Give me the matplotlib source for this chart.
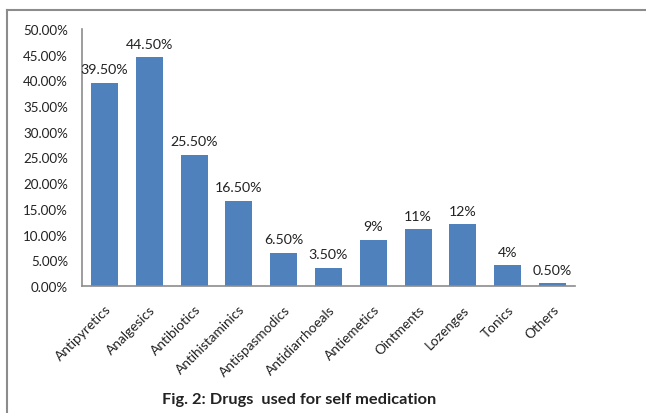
import matplotlib
matplotlib.use("Agg")
import matplotlib.pyplot as plt
from matplotlib.lines import Line2D
from matplotlib.ticker import FuncFormatter

plt.rcParams["font.family"] = ["Lato", "DejaVu Sans"]

drugs = ["Antipyretics", "Analgesics", "Antibiotics", "Antihistaminics", "Antispasmodics",
         "Antidiarrhoeals", "Antiemetics", "Ointments", "Lozenges", "Tonics", "Others"]
percent = [39.5, 44.5, 25.5, 16.5, 6.5, 3.5, 9, 11, 12, 4, 0.5]
bar_labels = ["39.50%", "44.50%", "25.50%", "16.50%", "6.50%", "3.50%",
              "9%", "11%", "12%", "4%", "0.50%"]

fig = plt.figure(figsize=(6.46, 4.14), dpi=100)
ax = fig.add_axes([0.127, 0.3068, 0.763, 0.6207])

x = range(len(drugs))
bars = ax.bar(x, percent, width=0.6, color="#4F81BD")
for b, lab in zip(bars, bar_labels):
    ax.text(b.get_x() + b.get_width() / 2, b.get_height() + 1.5, lab,
            ha="center", va="bottom", fontsize=10.2, color="#222222")

ax.set_xlim(-0.5, len(drugs) - 0.5)
ax.set_ylim(0, 50)
ax.set_yticks([i * 5 for i in range(11)])
ax.yaxis.set_major_formatter(FuncFormatter(lambda v, p: f"{v:.2f}%"))
ax.set_xticks(list(x))
ax.set_xticklabels(drugs, rotation=45, ha="right", rotation_mode="anchor")
ax.tick_params(axis="y", labelsize=9.6, length=0, pad=10, colors="#222222")
ax.tick_params(axis="x", labelsize=9.8, length=0, pad=12, colors="#222222")
for side in ["top", "right"]:
    ax.spines[side].set_visible(False)
for side in ["left", "bottom"]:
    ax.spines[side].set_color("#8c8c8c")
    ax.spines[side].set_linewidth(1.2)

fig.text(0.463, 0.034, "Fig. 2: Drugs  used for self medication", ha="center", va="center",
         fontsize=11.8, fontweight="bold", color="#222222")

# outer frame, only top and left edges show in the crop
fig.add_artist(Line2D([0.011, 1.0], [0.973, 0.973], color="#8c8c8c", lw=1.5))
fig.add_artist(Line2D([0.011, 0.011], [0.0, 0.973], color="#8c8c8c", lw=1.5))

fig.savefig("out.png", dpi=100)
